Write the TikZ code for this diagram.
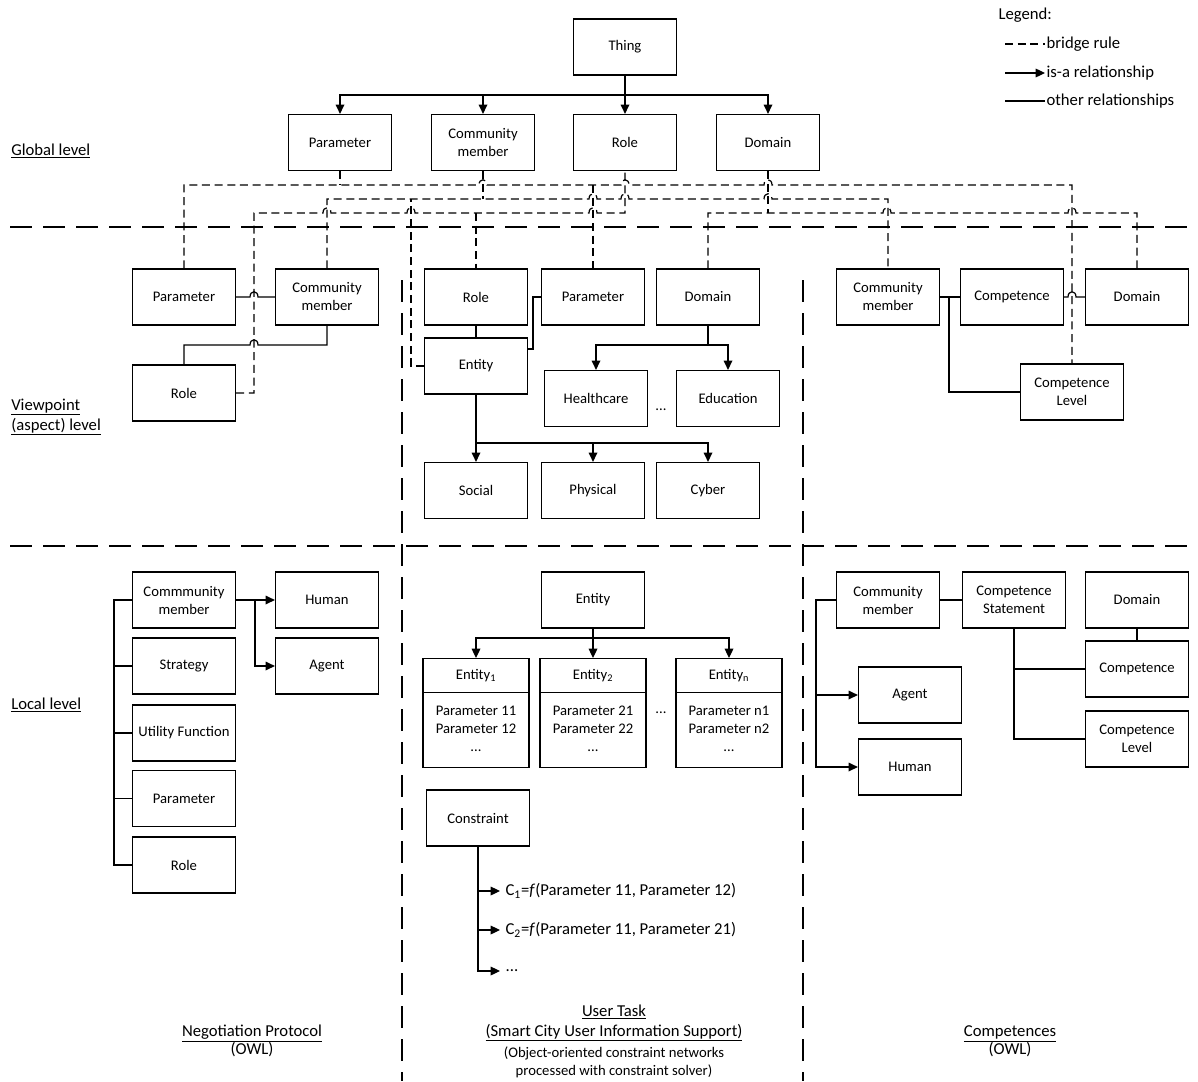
\documentclass[tikz,border=0pt]{standalone}
\usepackage{fontspec}
\setmainfont{Carlito}
\usetikzlibrary{arrows.meta,shapes.multipart}

% a small line jump on a horizontal line, drawn left to right
\newcommand{\hopx}[2]{-- ({#1-4},#2) .. controls ({#1-4},{#2-7}) and ({#1+4},{#2-7}) .. ({#1+4},#2)}

\tikzset{
    % Boxes of the ontologies
    box/.style={
        draw,
        line width=0.9pt,
        minimum width=77.25pt,
        minimum height=42pt,
        inner sep=2pt,
        align=center,
        font=\fontsize{11}{13.5}\selectfont,
    },
    % Entity with its parameters
    entbox/.style={
        draw,
        line width=0.9pt,
        rectangle split,
        rectangle split parts=2,
        minimum width=79.5pt,
        inner xsep=2pt,
        inner ysep=7.5pt,
        anchor=north,
        font=\fontsize{11}{13.5}\selectfont,
    },
    % is-a relationship
    isa/.style={
        -{Triangle[length=7pt, width=6.5pt]},
        line width=0.9pt,
    },
    % other relationships
    rel/.style={
        line width=0.9pt,
    },
    % bridge rules
    bridge/.style={
        line width=0.9pt,
        dash pattern=on 6pt off 3.5pt,
    },
    % borders between levels and ontologies
    levelsep/.style={
        line width=2.2pt,
        dash pattern=on 16.5pt off 8.25pt,
    },
    lvl/.style={
        anchor=west,
        align=left,
        inner sep=0pt,
        font=\fontsize{12.5}{15}\selectfont,
    },
    legtext/.style={
        anchor=west,
        inner xsep=1pt,
        inner ysep=0pt,
        font=\fontsize{12.5}{15}\selectfont,
    },
    ctext/.style={
        anchor=west,
        inner xsep=4pt,
        font=\fontsize{12.5}{15}\selectfont,
    },
    caption/.style={
        align=center,
        inner sep=0pt,
        font=\fontsize{12.5}{13.5}\selectfont,
    },
    note/.style={
        align=center,
        inner sep=0pt,
        font=\fontsize{11}{13.5}\selectfont,
    },
    dots/.style={
        inner sep=0pt,
        font=\fontsize{11}{13.5}\selectfont,
    },
}

\begin{document}
\begin{tikzpicture}[x=0.75pt, y=-0.75pt]
    \useasboundingbox (0,0) rectangle (1198,1081);

    % borders
    \draw[levelsep] (10,227) -- (1198,227);
    \draw[levelsep] (10,546) -- (1198,546);
    \draw[levelsep] (402,280) -- (402,1081);
    \draw[levelsep] (803,280) -- (803,1081);

    % level names
    \node[lvl] (lglobal) at (11,151) {\underline{Global level}};
    \node[lvl] (lview) at (11,417) {\underline{Viewpoint}\\\underline{(aspect) level}};
    \node[lvl] (llocal) at (11,705) {\underline{Local level}};

    % legend
    \node[legtext] (legend) at (997,15) {Legend:};
    \node[legtext] (lbridge) at (1045,44) {bridge rule};
    \node[legtext] (lisa) at (1045,73) {is-a relationship};
    \node[legtext] (lother) at (1045,101) {other relationships};
    \coordinate (sbridge) at (1005,44);
    \coordinate (sisa) at (1005,73);
    \coordinate (sother) at (1005,101);
    \draw[bridge] (sbridge) -- (lbridge.west);
    \draw[isa] (sisa) -- (lisa.west);
    \draw[rel] (sother) -- (lother.west);

    % global level
    \node[box] (thing) at (625,47) {Thing};
    \node[box] (gpar) at (340,142.5) {Parameter};
    \node[box] (gcm) at (483,142.5) {Community\\member};
    \node[box] (grole) at (625,142.5) {Role};
    \node[box] (gdom) at (768,142.5) {Domain};

    \draw[isa] (thing.south) -- (grole.north);
    \draw[isa] (625,95) -| (gpar.north);
    \draw[isa] (625,95) -| (gcm.north);
    \draw[isa] (625,95) -| (gdom.north);

    % viewpoint level: negotiation protocol
    \node[box] (vparL) at (184,297) {Parameter};
    \node[box] (vcmL) at (327,297) {Community\\member};
    \node[box] (vroleL) at (184,393) {Role};

    \draw[rel] (vparL.east) \hopx{254}{297} -- (vcmL.west);
    \draw[rel] (vroleL.north) |- (240,345) \hopx{254}{345} -| (vcmL.south);

    % viewpoint level: user task
    \node[box] (vroleM) at (476,297) {Role};
    \node[box] (vparM) at (593,297) {Parameter};
    \node[box] (vdomM) at (708,297) {Domain};
    \node[box] (ventM) at (476,366) {Entity};
    \node[box] (vhealth) at (596,398.5) {Healthcare};
    \node[box] (veduc) at (728,398.5) {Education};
    \node[dots] (vdots) at (661,410) {...};
    \node[box] (vsoc) at (476,490.5) {Social};
    \node[box] (vphys) at (593,490.5) {Physical};
    \node[box] (vcyb) at (708,490.5) {Cyber};

    \draw[rel] (vroleM.south) -- (ventM.north);
    \draw[rel] (vparM.west) -- (533,297) -- (533,349) -- (ventM.east |- 533,349);
    \draw[isa] (vdomM.south) -- (708,345) -| (vhealth.north);
    \draw[isa] (708,345) -| (veduc.north);
    \draw[isa] (ventM.south) -- (vsoc.north);
    \draw[isa] (476,443) -| (vphys.north);
    \draw[isa] (476,443) -| (vcyb.north);

    % viewpoint level: competences
    \node[box] (vcmR) at (888,297) {Community\\member};
    \node[box] (vcompR) at (1012,297) {Competence};
    \node[box] (vdomR) at (1137,297) {Domain};
    \node[box] (vclevR) at (1072,392) {Competence\\Level};

    \draw[rel] (vcmR.east) -- (vcompR.west);
    \draw[rel] (949,297) |- (vclevR.west);
    \draw[rel] (vcompR.east) \hopx{1072}{297} -- (vdomR.west);

    % bridge rules
    \draw[bridge] (gpar.south) -- (340,185);
    \draw[bridge] (vparL.north) |- (340,185) \hopx{483}{185} \hopx{625}{185} \hopx{768}{185} -| (vclevR.north);
    \draw[bridge] (593,185) -- (vparM.north);
    \draw[bridge] (gcm.south) -- (483,199);
    \draw[bridge] (vcmL.north) |- (483,199) \hopx{593}{199} \hopx{625}{199} \hopx{768}{199} -| (vcmR.north);
    \draw[bridge] (ventM.west) -| (411,199);
    \draw[bridge] (vroleL.east) -| (254,213) \hopx{327}{213} \hopx{411}{213} \hopx{593}{213} -| (grole.south);
    \draw[bridge] (476,213) -- (vroleM.north);
    \draw[bridge] (gdom.south) -- (768,213);
    \draw[bridge] (vdomM.north) |- (768,213) \hopx{887}{213} \hopx{1072}{213} -| (vdomR.north);

    % local level: negotiation protocol
    \node[box] (lcm) at (184,600) {Commmunity\\member};
    \node[box] (lstrat) at (184,666) {Strategy};
    \node[box] (lutil) at (184,733) {Utility Function};
    \node[box] (lpar) at (184,798.5) {Parameter};
    \node[box] (lrole) at (184,865) {Role};
    \node[box] (lhuman) at (327,600) {Human};
    \node[box] (lagent) at (327,666) {Agent};

    \draw[rel] (lcm.west) -- (114,600) |- (lrole.west);
    \foreach \n in {lstrat,lutil,lpar}
        \draw[rel] (\n.west -| 114,0) -- (\n.west);
    \draw[isa] (lcm.east) -- (lhuman.west);
    \draw[isa] (255,600) |- (lagent.west);

    % local level: user task
    \node[box] (lent) at (593,600) {Entity};
    \node[entbox] (ent1) at (476,658) {Entity\textsubscript{1}\nodepart{two}\begin{tabular}{@{}c@{}}Parameter 11\\Parameter 12\\...\end{tabular}};
    \node[entbox] (ent2) at (593,658) {Entity\textsubscript{2}\nodepart{two}\begin{tabular}{@{}c@{}}Parameter 21\\Parameter 22\\...\end{tabular}};
    \node[entbox] (entn) at (729,658) {Entity\textsubscript{n}\nodepart{two}\begin{tabular}{@{}c@{}}Parameter n1\\Parameter n2\\...\end{tabular}};
    \node[dots] (edots) at (661,713) {...};
    \node[box] (lcons) at (478,818) {Constraint};

    \draw[isa] (lent.south) -- (ent2.north);
    \draw[isa] (593,638) -| (ent1.north);
    \draw[isa] (593,638) -| (entn.north);

    \node[ctext] (c1) at (500,891) {C\textsubscript{1}=\textit{f}(Parameter 11, Parameter 12)};
    \node[ctext] (c2) at (500,930) {C\textsubscript{2}=\textit{f}(Parameter 11, Parameter 21)};
    \node[ctext] (c3) at (500,971) {...};
    \draw[isa] (lcons.south) |- (c3.west);
    \draw[isa] (478,891) -- (c1.west);
    \draw[isa] (478,930) -- (c2.west);

    % local level: competences
    \node[box] (rcm) at (888,600) {Community\\member};
    \node[box] (rcs) at (1014,600) {Competence\\Statement};
    \node[box] (rdom) at (1137,600) {Domain};
    \node[box] (rcomp) at (1137,669) {Competence};
    \node[box] (rclev) at (1137,739) {Competence\\Level};
    \node[box] (ragent) at (910,695) {Agent};
    \node[box] (rhuman) at (910,767) {Human};

    \draw[isa] (rcm.west) -| (816,695) -- (ragent.west);
    \draw[isa] (816,695) |- (rhuman.west);
    \draw[rel] (rcm.east) -- (rcs.west);
    \draw[rel] (rcs.south) |- (rclev.west);
    \draw[rel] (1014,669) -- (rcomp.west);
    \draw[rel] (rdom.south) -- (rcomp.north);

    % names of the ontologies
    \node[caption] (negot) at (252,1041) {\underline{Negotiation Protocol}\\(OWL)};
    \node[caption, font=\fontsize{12.5}{15}\selectfont] (utask) at (614,1023) {\underline{User Task}\\\underline{(Smart City User Information Support)}};
    \node[note] (unote) at (614,1062) {(Object-oriented constraint networks\\processed with constraint solver)};
    \node[caption] (compet) at (1010,1041) {\underline{Competences}\\(OWL)};
\end{tikzpicture}
\end{document}
